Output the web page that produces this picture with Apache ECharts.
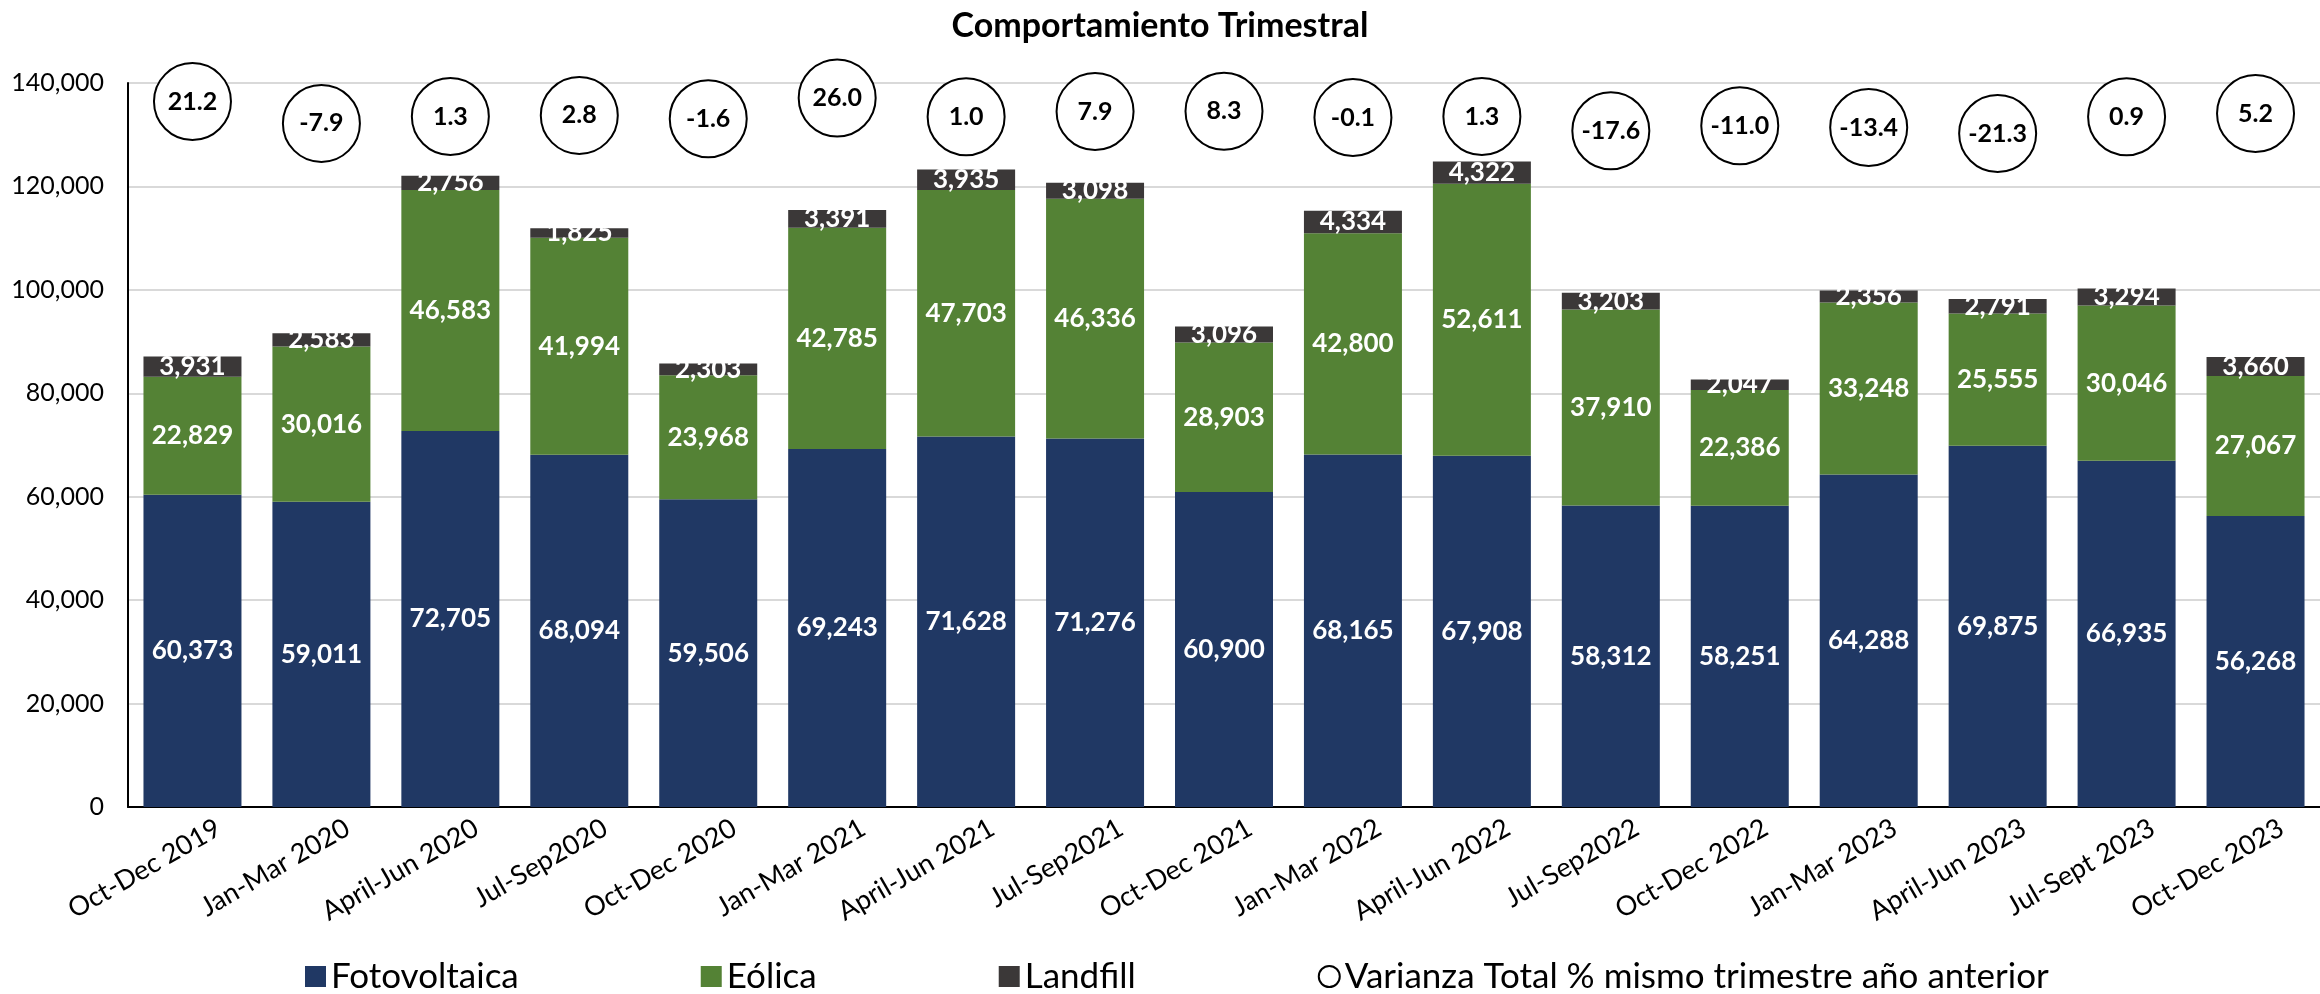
<!DOCTYPE html>
<html>
<head>
<meta charset="utf-8">
<script src="https://cdn.jsdelivr.net/npm/echarts@6/dist/echarts.min.js"></script>
<style>
html,body{margin:0;padding:0;background:#fff;}
#chart{width:2320px;height:994px;}
</style>
</head>
<body>
<div id="chart"></div>
<script>
var categories = ['Oct-Dec 2019','Jan-Mar 2020','April-Jun 2020','Jul-Sep2020','Oct-Dec 2020','Jan-Mar 2021','April-Jun 2021','Jul-Sep2021','Oct-Dec 2021','Jan-Mar 2022','April-Jun 2022','Jul-Sep2022','Oct-Dec 2022','Jan-Mar 2023','April-Jun 2023','Jul-Sept 2023','Oct-Dec 2023'];
var fotovoltaica = [60373,59011,72705,68094,59506,69243,71628,71276,60900,68165,67908,58312,58251,64288,69875,66935,56268];
var eolica = [22829,30016,46583,41994,23968,42785,47703,46336,28903,42800,52611,37910,22386,33248,25555,30046,27067];
var landfill = [3931,2583,2756,1825,2303,3391,3935,3098,3096,4334,4322,3203,2047,2356,2791,3294,3660];
var varianza = [21.2,-7.9,1.3,2.8,-1.6,26.0,1.0,7.9,8.3,-0.1,1.3,-17.6,-11.0,-13.4,-21.3,0.9,5.2];
var yTicks = [0,20000,40000,60000,80000,100000,120000,140000];

var fontName = 'Lato';
var chart = echarts.init(document.getElementById('chart'));

function fmt(v){
	return Number(v).toLocaleString('en-US');
}

var barLabel = {
	show: true,
	position: 'inside',
	color: '#fff',
	fontFamily: fontName,
	fontWeight: 'bold',
	fontSize: 26,
	formatter: function(p){ return fmt(p.value); }
};

var option = {
	animation: false,
	textStyle: { fontFamily: fontName },
	title: {
		text: 'Comportamiento Trimestral',
		left: 'center',
		top: 4,
		textStyle: { fontFamily: fontName, fontWeight: 'bold', fontSize: 34, color: '#000' }
	},
	legend: {
		left: 300,
		top: 954,
		itemGap: 182,
		itemWidth: 21,
		itemHeight: 21,
		textStyle: { fontFamily: fontName, fontSize: 35, color: '#000' },
		data: [
			{ name: 'Fotovoltaica', icon: 'rect' },
			{ name: 'Eólica', icon: 'rect' },
			{ name: 'Landfill', icon: 'rect' },
			{ name: 'Varianza Total % mismo trimestre año anterior', icon: 'circle' }
		]
	},
	grid: [
		{ left: 128, right: 0, top: 83, bottom: 187 },
		//tira de circulos de la varianza
		{ left: 128, right: 0, top: 95, height: 45 }
	],
	xAxis: [
		{
			type: 'category',
			gridIndex: 0,
			data: categories,
			axisLine: { lineStyle: { color: '#000', width: 2 } },
			axisTick: { show: false },
			axisLabel: {
				interval: 0,
				rotate: 30,
				margin: 34,
				padding: [0, -30, 0, 0],
				fontFamily: fontName,
				fontSize: 27,
				color: '#000'
			}
		},
		{
			type: 'category',
			gridIndex: 1,
			data: categories,
			show: false
		}
	],
	yAxis: [
		{
			type: 'value',
			gridIndex: 0,
			min: 0,
			max: 140000,
			interval: 20000,
			axisLine: { show: true, lineStyle: { color: '#000', width: 2 } },
			axisTick: { show: false },
			splitLine: { lineStyle: { color: '#d9d9d9', width: 2 } },
			axisLabel: {
				margin: 24,
				fontFamily: fontName,
				fontSize: 25,
				color: '#000',
				formatter: function(v){ return yTicks.indexOf(v) >= 0 ? fmt(v) : ''; }
			}
		},
		{
			type: 'value',
			gridIndex: 1,
			min: -30,
			max: 30,
			show: false
		}
	],
	series: [
		{
			name: 'Fotovoltaica',
			type: 'bar',
			stack: 'total',
			barCategoryGap: '24%',
			itemStyle: { color: '#203864' },
			label: barLabel,
			data: fotovoltaica
		},
		{
			name: 'Eólica',
			type: 'bar',
			stack: 'total',
			itemStyle: { color: '#548235' },
			label: barLabel,
			data: eolica
		},
		{
			name: 'Landfill',
			type: 'bar',
			stack: 'total',
			itemStyle: { color: '#3b3838' },
			label: barLabel,
			data: landfill
		},
		{
			name: 'Varianza Total % mismo trimestre año anterior',
			type: 'scatter',
			xAxisIndex: 1,
			yAxisIndex: 1,
			clip: false,
			symbol: 'circle',
			symbolSize: 77,
			itemStyle: { color: '#fff', borderColor: '#000', borderWidth: 2, opacity: 1 },
			label: {
				show: true,
				position: 'inside',
				color: '#000',
				fontFamily: fontName,
				fontWeight: 'bold',
				fontSize: 25,
				formatter: function(p){ return Number(p.value).toFixed(1); }
			},
			data: varianza
		}
	]
};
chart.setOption(option);
</script>
</body>
</html>
